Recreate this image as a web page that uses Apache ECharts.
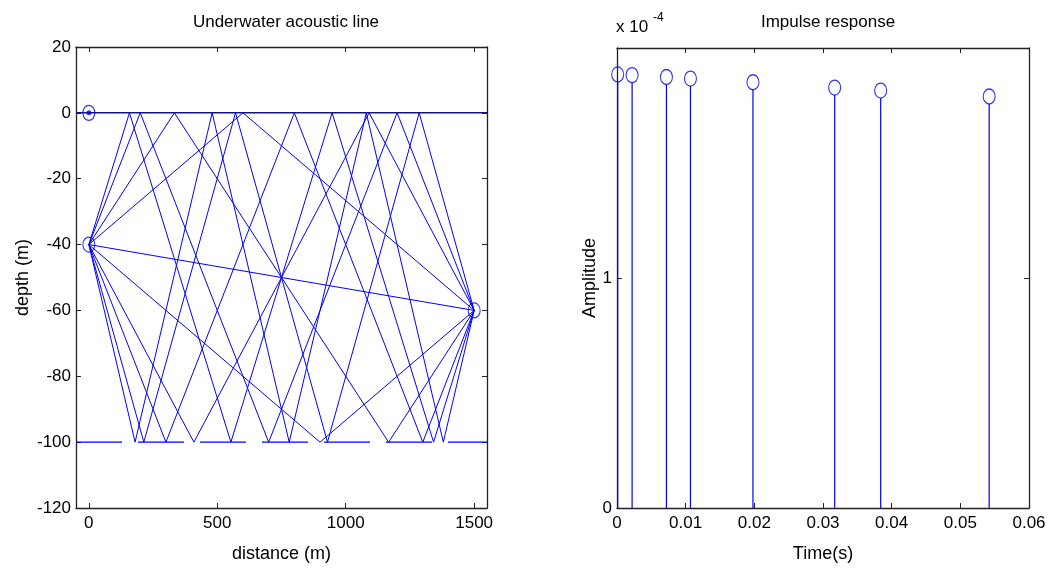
<!DOCTYPE html>
<html>
<head>
<meta charset="utf-8">
<script src="https://cdn.jsdelivr.net/npm/echarts@6/dist/echarts.min.js"></script>
<style>
html,body{margin:0;padding:0;background:#fff;}
#c{width:1053px;height:574px;}
</style>
</head>
<body>
<div id="c"></div>
<script>
// ---------- data ----------
const distTicks = [0, 500, 1000, 1500];
const depthTicks = [20, 0, -20, -40, -60, -80, -100, -120];
const timeTicks = [0, 0.01, 0.02, 0.03, 0.04, 0.05, 0.06];

const sourcePt = [0, -40];
const receiverPt = [1500, -60];
const surfaceMark = [0, 0];

const surfaceX = [-50, 1550];
const surfaceZ = [0, 0];
const bottomX = [-50, 1550];
const bottomZ = [-100, -100];

// ray paths: x positions and depths of vertices (source, reflections, receiver)
const rayNames = ['direct', 'S', 'B', 'SB', 'BS', 'SBS', 'BSB', 'SBSB', 'BSBS', 'BSBSB'];
const rayX = [
  [0, 1500],
  [0, 600, 1500],
  [0, 900, 1500],
  [0, 333, 1167, 1500],
  [0, 409, 1091, 1500],
  [0, 200, 700, 1200, 1500],
  [0, 300, 800, 1300, 1500],
  [0, 158, 553, 947, 1342, 1500],
  [0, 214, 571, 929, 1286, 1500],
  [0, 180, 480, 780, 1080, 1380, 1500]
];
const rayZ = [
  [-40, -60],
  [-40, 0, -60],
  [-40, -100, -60],
  [-40, 0, -100, -60],
  [-40, -100, 0, -60],
  [-40, 0, -100, 0, -60],
  [-40, -100, 0, -100, -60],
  [-40, 0, -100, 0, -100, -60],
  [-40, -100, 0, -100, 0, -60],
  [-40, -100, 0, -100, 0, -100, -60]
];

// impulse response
const arrivalTime = [0.0001, 0.0022, 0.0072, 0.0107, 0.0198, 0.0317, 0.0384, 0.0542];
const amplitude = [1.885e-4, 1.882e-4, 1.874e-4, 1.867e-4, 1.851e-4, 1.828e-4, 1.815e-4, 1.789e-4];

// ---------- chart ----------
const BLUE = '#0000ff';
const FONT = 'Liberation Sans, Arial, sans-serif';
const MARK = [12, 15];
const chart = echarts.init(document.getElementById('c'), null, {renderer: 'canvas'});

const zip = (a, b) => a.map((v, i) => [v, b[i]]);

const frameAxis = {
  axisLine: {show: true, onZero: false, lineStyle: {color: '#222', width: 1.3}},
  splitLine: {show: false}
};

const series = [];

// surface and bottom
series.push({
  type: 'line', xAxisIndex: 0, yAxisIndex: 0, data: zip(surfaceX, surfaceZ),
  symbol: 'none', lineStyle: {color: '#14147a', width: 1.5}, silent: true, z: 3
});
series.push({
  type: 'line', xAxisIndex: 0, yAxisIndex: 0, data: zip(bottomX, bottomZ),
  symbol: 'none', lineStyle: {color: BLUE, width: 1.2, type: [46, 16]}, silent: true, z: 3
});
// rays
rayNames.forEach((n, i) => {
  series.push({
    name: n, type: 'line', xAxisIndex: 0, yAxisIndex: 0,
    data: zip(rayX[i], rayZ[i]), symbol: 'none',
    lineStyle: {color: BLUE, width: 1}, silent: true, z: 4
  });
});
// markers (hollow circles)
series.push({
  type: 'scatter', xAxisIndex: 0, yAxisIndex: 0,
  data: [sourcePt, receiverPt, surfaceMark], symbol: 'circle', symbolSize: MARK,
  itemStyle: {color: 'rgba(0,0,0,0)', borderColor: BLUE, borderWidth: 1.2}, z: 6, silent: true
});
series.push({
  type: 'scatter', xAxisIndex: 0, yAxisIndex: 0,
  data: [surfaceMark], symbol: 'circle', symbolSize: 5,
  itemStyle: {color: '#0000cc'}, z: 7, silent: true
});

// stems
series.push({
  type: 'custom', xAxisIndex: 2, yAxisIndex: 2,
  data: zip(arrivalTime, amplitude),
  renderItem: function (params, api) {
    const p0 = api.coord([api.value(0), 0]);
    const p1 = api.coord([api.value(0), api.value(1)]);
    return {
      type: 'line',
      shape: {x1: p0[0], y1: p0[1], x2: p1[0], y2: p1[1] + MARK[1] / 2},
      style: {stroke: BLUE, lineWidth: 1.2}
    };
  },
  silent: true, z: 4
});
series.push({
  type: 'scatter', xAxisIndex: 2, yAxisIndex: 2,
  data: zip(arrivalTime, amplitude), symbol: 'circle', symbolSize: MARK,
  itemStyle: {color: 'rgba(0,0,0,0)', borderColor: BLUE, borderWidth: 1.2}, z: 6, silent: true
});

const labelStyle = {color: '#000', fontSize: 17, fontFamily: FONT};
const nameStyle = {color: '#000', fontSize: 18, fontFamily: FONT};
const titleStyle = {fontSize: 17, fontWeight: 'normal', color: '#000', fontFamily: FONT};

const option = {
  backgroundColor: '#fff',
  animation: false,
  title: [
    {text: 'Underwater acoustic line', left: 281, top: 9, textAlign: 'center', textStyle: titleStyle},
    {text: 'Impulse response', left: 823, top: 9, textAlign: 'center', textStyle: titleStyle}
  ],
  graphic: [
    {type: 'text', left: 616, top: 19, style: {text: 'x 10', fontSize: 17, fontFamily: FONT, fill: '#000'}},
    {type: 'text', left: 653, top: 12, style: {text: '-4', fontSize: 12, fontFamily: FONT, fill: '#000'}}
  ],
  grid: [
    {left: 76, top: 47, width: 411, height: 461, show: false},
    {left: 617, top: 48, width: 412, height: 460, show: false}
  ],
  xAxis: [
    Object.assign({}, frameAxis, {
      gridIndex: 0, type: 'value', position: 'bottom', min: -50, max: 1550,
      name: 'distance (m)', nameLocation: 'middle', nameGap: 37, nameTextStyle: nameStyle,
      axisTick: {show: true, inside: true, length: 5, customValues: distTicks, lineStyle: {color: '#222'}},
      axisLabel: {show: true, customValues: distTicks, margin: 7, ...labelStyle, formatter: v => String(v)}
    }),
    Object.assign({}, frameAxis, {
      gridIndex: 0, type: 'value', position: 'top', min: -50, max: 1550,
      axisTick: {show: true, inside: true, length: 5, customValues: distTicks, lineStyle: {color: '#222'}},
      axisLabel: {show: false}
    }),
    Object.assign({}, frameAxis, {
      gridIndex: 1, type: 'value', position: 'bottom', min: 0, max: 0.06, interval: 0.01,
      name: 'Time(s)', nameLocation: 'middle', nameGap: 37, nameTextStyle: nameStyle,
      axisTick: {show: true, inside: true, length: 5, lineStyle: {color: '#222'}},
      axisLabel: {show: true, margin: 7, ...labelStyle,
        formatter: v => String(+v.toFixed(2))}
    }),
    Object.assign({}, frameAxis, {
      gridIndex: 1, type: 'value', position: 'top', min: 0, max: 0.06, interval: 0.01,
      axisTick: {show: true, inside: true, length: 5, lineStyle: {color: '#222'}},
      axisLabel: {show: false}
    })
  ],
  yAxis: [
    Object.assign({}, frameAxis, {
      gridIndex: 0, type: 'value', position: 'left', min: -120, max: 20, interval: 20,
      name: 'depth (m)', nameLocation: 'middle', nameGap: 44, nameTextStyle: nameStyle,
      axisTick: {show: true, inside: true, length: 5, lineStyle: {color: '#222'}},
      axisLabel: {show: true, margin: 5, ...labelStyle}
    }),
    Object.assign({}, frameAxis, {
      gridIndex: 0, type: 'value', position: 'right', min: -120, max: 20, interval: 20,
      axisTick: {show: true, inside: true, length: 5, lineStyle: {color: '#222'}},
      axisLabel: {show: false}
    }),
    Object.assign({}, frameAxis, {
      gridIndex: 1, type: 'value', position: 'left', min: 0, max: 2e-4, interval: 1e-4,
      name: 'Amplitude', nameLocation: 'middle', nameGap: 18, nameTextStyle: nameStyle,
      axisTick: {show: true, inside: true, length: 5, lineStyle: {color: '#222'}},
      axisLabel: {show: true, margin: 5, ...labelStyle,
        formatter: v => { const k = Math.round(v * 1e4); return k >= 2 ? '' : String(k); }}
    }),
    Object.assign({}, frameAxis, {
      gridIndex: 1, type: 'value', position: 'right', min: 0, max: 2e-4, interval: 1e-4,
      axisTick: {show: true, inside: true, length: 5, lineStyle: {color: '#222'}},
      axisLabel: {show: false}
    })
  ],
  series: series
};

chart.setOption(option);
</script>
</body>
</html>
